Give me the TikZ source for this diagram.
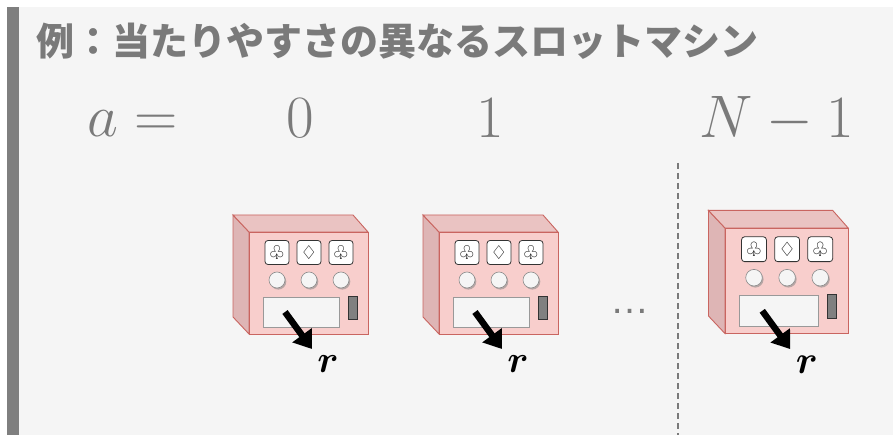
\RequirePackage{fix-cm}
\documentclass[tikz,border=0pt]{standalone}
\usepackage{amsmath}
\usepackage{fontspec}
\newfontfamily\jpfont{Noto Sans CJK JP}
\newfontfamily\suitfont{DejaVu Sans}
\newfontfamily\dotsfont{Liberation Sans}
\usetikzlibrary{arrows.meta,shadows}

\definecolor{bgcol}{HTML}{F5F5F5}
\definecolor{barcol}{HTML}{7F7F7F}
\definecolor{labcol}{HTML}{7A7A7A}
\definecolor{frontcol}{HTML}{F8CECC}
\definecolor{topcol}{HTML}{EAC3C2}
\definecolor{sidecol}{HTML}{DEB5B5}
\definecolor{edgecol}{HTML}{C96560}

\begin{document}
\begin{tikzpicture}[x=1pt, y=-1pt]
\tikzset{
  biglab/.style={text=labcol, inner sep=0, anchor=base, font=\fontsize{60}{60}\selectfont},
  body/.style={draw=edgecol, fill=frontcol, line width=0.9pt, minimum width=119pt, minimum height=102pt, inner sep=0},
  symbox/.style={draw=black!80, fill=white, rounded corners=3pt, line width=0.8pt, minimum size=24pt, inner sep=0, font=\suitfont\fontsize{19}{19}\selectfont},
  knob/.style={circle, draw=black!45, fill=black!4, minimum size=16pt, inner sep=0, line width=0.6pt,
    drop shadow={shadow xshift=1.3pt, shadow yshift=-1.6pt, fill=black!45, opacity=0.6}},
  tray/.style={draw=black!40, fill=bgcol, line width=0.9pt, minimum width=76pt, minimum height=30pt, inner sep=0},
  coin/.style={draw=black!80, fill=black!50, line width=0.8pt, minimum width=9pt, minimum height=23pt, inner sep=0},
  outarrow/.style={line width=6.5pt, -{Triangle[length=17pt, width=23pt]}},
  slotmachine/.pic={
    \filldraw[sidecol, draw=edgecol, line width=0.9pt] (0,0) -- (-16,-17) -- (-16,85) -- (0,102) -- cycle;
    \filldraw[topcol, draw=edgecol, line width=0.9pt] (0,0) -- (-16,-17) -- (104,-17) -- (119,0) -- cycle;
    \node[body] (-body) at (59.5,51) {};
    \node[symbox] (-s1) at (28,20.5) {♧};
    \node[symbox] (-s2) at (60,20.5) {♢};
    \node[symbox] (-s3) at (92,20.5) {♧};
    \node[knob] (-k1) at (28,48) {};
    \node[knob] (-k2) at (60,48) {};
    \node[knob] (-k3) at (92,48) {};
    \node[tray] (-tray) at (52,80) {};
    \node[coin] (-coin) at (103.5,75.5) {};
    \coordinate (-from) at (36,80);
    \coordinate (-to) at (63,117);
    \draw[outarrow] (-from) -- (-to);
    \node[inner sep=0, font=\fontsize{38}{38}\selectfont] (-r) at (79,132) {$\boldsymbol{r}$};
  }
}
\useasboundingbox (0,0) rectangle (893,435);
\fill[bgcol] (19,7) rectangle (893,435);
\fill[barcol] (7,7) rectangle (19,435);

% title
\node[anchor=west, inner sep=0, text=labcol, font=\jpfont\bfseries\fontsize{38}{38}\selectfont] (title) at (36,41.5) {例：当たりやすさの異なるスロットマシン};

% arm indices
\node[biglab, anchor=base west] (alab) at (87,137) {$a =$};
\node[biglab] (a0) at (300,138) {$0$};
\node[biglab] (a1) at (490,138) {$1$};
\node[biglab] (aN) at (777,138) {$N-1$};

% machines
\pic (m0) at (249,232) {slotmachine};
\pic (m1) at (439,232) {slotmachine};
\pic[scale=1.035, transform shape] (mN) at (725,228) {slotmachine};

\node[text=labcol, inner sep=0, anchor=base, font=\dotsfont\fontsize{39}{39}\selectfont] (dots) at (630,313) {…};

\coordinate (septop) at (678,163);
\coordinate (sepbot) at (678,435);
\draw[labcol, line width=2pt, dash pattern=on 6pt off 4pt] (septop) -- (sepbot);
\end{tikzpicture}
\end{document}
